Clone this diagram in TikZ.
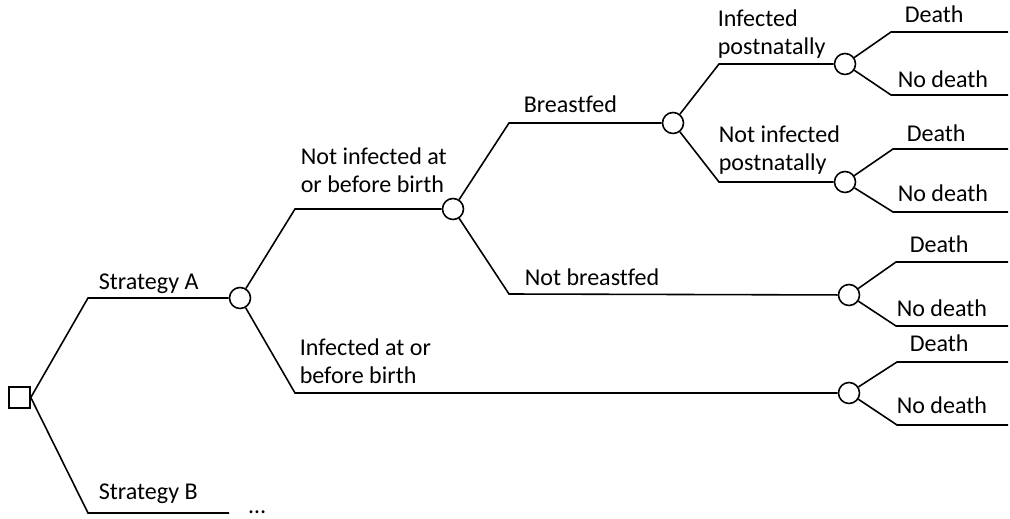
\documentclass[tikz,border=0pt]{standalone}
\usepackage{fontspec}
\setmainfont{Carlito}[Ligatures=NoCommon]
\begin{document}
\begin{tikzpicture}[x=0.02cm,y=-0.02cm,
  line width=0.9pt,
  chance/.style={draw,circle,minimum size=0.42cm,inner sep=0pt,fill=white},
  decision/.style={draw,rectangle,minimum size=0.42cm,inner sep=0pt,fill=white},
  lbl/.style={anchor=base west,inner sep=0pt,align=left,font=\fontsize{13.7}{16.4}\selectfont}]
\useasboundingbox (0,0) rectangle (1010,519);
% nodes
\node[decision] (sq) at (19.5,397.5) {};
\node[chance] (cA) at (240,298) {};
\node[chance] (cB) at (453,209) {};
\node[chance] (cC) at (849,393) {};
\node[chance] (cD) at (673,123) {};
\node[chance] (cE) at (849,295) {};
\node[chance] (cF) at (845,64) {};
\node[chance] (cG) at (845,182) {};
% bend coordinates
\coordinate (pA) at (88,298);
\coordinate (pB1) at (88,513);
\coordinate (pB2) at (229,513);
\coordinate (p1) at (295,209);
\coordinate (p2) at (295,393);
\coordinate (p3) at (509,123);
\coordinate (p4) at (509,294);
\coordinate (p5) at (719,64);
\coordinate (p6) at (719,182);
\coordinate (f1) at (891,32);  \coordinate (f1e) at (1008,32);
\coordinate (f2) at (891,95);  \coordinate (f2e) at (1008,95);
\coordinate (g1) at (893,149); \coordinate (g1e) at (1008,149);
\coordinate (g2) at (893,212); \coordinate (g2e) at (1008,212);
\coordinate (e1) at (896,262); \coordinate (e1e) at (1008,262);
\coordinate (e2) at (896,326); \coordinate (e2e) at (1008,326);
\coordinate (c1) at (897,362); \coordinate (c1e) at (1008,362);
\coordinate (c2) at (897,425); \coordinate (c2e) at (1008,425);
% branches
\draw (sq.east) -- (pA) -- (cA);
\draw (sq.east) -- (pB1) -- (pB2);
\draw (cA) -- (p1) -- (cB);
\draw (cA) -- (p2) -- (cC);
\draw (cB) -- (p3) -- (cD);
\draw (cB) -- (p4) -- (cE);
\draw (cD) -- (p5) -- (cF);
\draw (cD) -- (p6) -- (cG);
\draw (cF) -- (f1) -- (f1e);
\draw (cF) -- (f2) -- (f2e);
\draw (cG) -- (g1) -- (g1e);
\draw (cG) -- (g2) -- (g2e);
\draw (cE) -- (e1) -- (e1e);
\draw (cE) -- (e2) -- (e2e);
\draw (cC) -- (c1) -- (c1e);
\draw (cC) -- (c2) -- (c2e);
% labels (multi-line nodes: base = last line's baseline)
\node[lbl] (tA) at (98,290) {Strategy A};
\node[lbl] (tB) at (98,500) {Strategy B};
\node[lbl] (tdots) at (248,514) {…};
\node[lbl] (tNI) at (300,193) {Not infected at\\or before birth};
\node[lbl] (tI) at (299,384) {Infected at or\\before birth};
\node[lbl] (tBF) at (523,113) {Breastfed};
\node[lbl] (tNBF) at (524,286) {Not breastfed};
\node[lbl] (tIP) at (717,55) {Infected\\postnatally};
\node[lbl] (tNIP) at (718,171) {Not infected\\postnatally};
\node[lbl] (d1) at (904,23) {Death};
\node[lbl] (n1) at (897,88) {No death};
\node[lbl] (d2) at (906,142) {Death};
\node[lbl] (n2) at (897,202) {No death};
\node[lbl] (d3) at (909,253) {Death};
\node[lbl] (n3) at (896,317) {No death};
\node[lbl] (d4) at (909,352) {Death};
\node[lbl] (n4) at (896,414) {No death};
\end{tikzpicture}
\end{document}
